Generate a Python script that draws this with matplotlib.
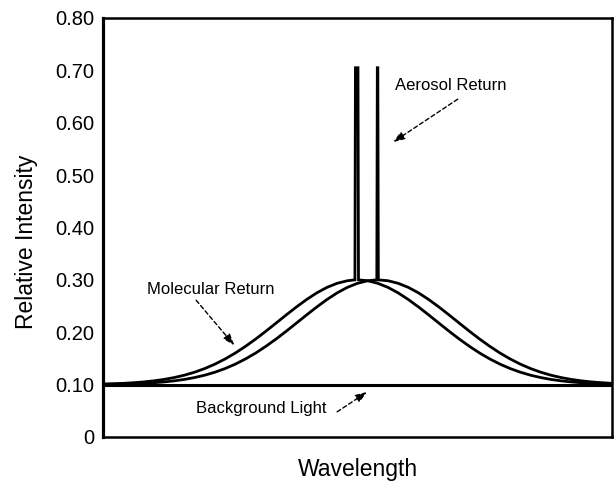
import matplotlib
matplotlib.use('Agg')
import matplotlib.pyplot as plt

plt.rcParams['font.family'] = ['Liberation Sans', 'DejaVu Sans']

# molecular return 1 (aerosol spike at its centre)
mol1_x = [0, 2, 4, 6, 8, 10, 12, 14, 16, 18, 20, 22, 24, 26, 28, 30, 32, 34, 36, 38, 40, 42, 44, 46, 48,
          49.5, 49.6, 50.1, 50.2,
          52, 54, 56, 58, 60, 62, 64, 66, 68, 70, 72, 74, 76, 78, 80, 82, 84, 86, 88, 90, 92, 94, 96, 98, 100]
mol1_y = [0.1011, 0.1017, 0.1024, 0.1036, 0.1051, 0.1072, 0.1099, 0.1135, 0.1180, 0.1237, 0.1307, 0.1391,
          0.1490, 0.1603, 0.1731, 0.1870, 0.2019, 0.2174, 0.2330, 0.2482, 0.2624, 0.2751, 0.2856, 0.2934, 0.2983,
          0.300, 0.705, 0.705, 0.300,
          0.2983, 0.2934, 0.2856, 0.2751, 0.2624, 0.2482, 0.2330, 0.2174, 0.2019, 0.1870, 0.1731, 0.1603,
          0.1490, 0.1391, 0.1307, 0.1237, 0.1180, 0.1135, 0.1099, 0.1072, 0.1051, 0.1036, 0.1024, 0.1017, 0.1011]

# molecular return 2 (shifted to longer wavelength)
mol2_x = [0, 2, 4, 6, 8, 10, 12, 14, 16, 18, 20, 22, 24, 26, 28, 30, 32, 34, 36, 38, 40, 42, 44, 46, 48, 50, 52,
          53.8, 53.9, 54.0, 54.1,
          56, 58, 60, 62, 64, 66, 68, 70, 72, 74, 76, 78, 80, 82, 84, 86, 88, 90, 92, 94, 96, 98, 100]
mol2_y = [0.1005, 0.1007, 0.1011, 0.1017, 0.1024, 0.1036, 0.1051, 0.1072, 0.1099, 0.1135, 0.1180, 0.1237,
          0.1307, 0.1391, 0.1490, 0.1603, 0.1731, 0.1870, 0.2019, 0.2174, 0.2330, 0.2482, 0.2624, 0.2751,
          0.2856, 0.2934, 0.2983,
          0.300, 0.705, 0.705, 0.300,
          0.2983, 0.2934, 0.2856, 0.2751, 0.2624, 0.2482, 0.2330, 0.2174, 0.2019, 0.1870, 0.1731, 0.1603,
          0.1490, 0.1391, 0.1307, 0.1237, 0.1180, 0.1135, 0.1099, 0.1072, 0.1051, 0.1036, 0.1024]

bg_x = [0, 100]
bg_y = [0.10, 0.10]

yticks = [0, 0.1, 0.2, 0.3, 0.4, 0.5, 0.6, 0.7, 0.8]
ytick_labels = ['0', '0.10', '0.20', '0.30', '0.40', '0.50', '0.60', '0.70', '0.80']

fig = plt.figure(figsize=(6.15, 4.82), dpi=100)
ax = fig.add_axes([0.1675, 0.0934, 0.8275, 0.8693])

ax.plot(bg_x, bg_y, color='black', lw=2.2, solid_capstyle='butt')
ax.plot(mol1_x, mol1_y, color='black', lw=2.0, solid_joinstyle='miter')
ax.plot(mol2_x, mol2_y, color='black', lw=2.0, solid_joinstyle='miter')

ax.set_xlim(0, 100)
ax.set_ylim(0, 0.8)
ax.set_xticks([])
ax.set_yticks(yticks)
ax.set_yticklabels(ytick_labels, fontsize=14.5)
ax.tick_params(axis='y', length=0, pad=6)
for s in ax.spines.values():
    s.set_linewidth(1.8)
ax.spines['left'].set_linewidth(2.3)

ax.set_ylabel('Relative Intensity', fontsize=16.5)
ax.yaxis.set_label_coords(-0.128, 0.465)
ax.set_xlabel('Wavelength', fontsize=16.5)
ax.xaxis.set_label_coords(0.5, -0.05)

arrow = dict(arrowstyle='-|>,head_length=0.7,head_width=0.25', color='black',
             lw=1.0, linestyle=(0, (3, 2)), shrinkA=0, shrinkB=0)

ax.text(68.4, 0.672, 'Aerosol Return', fontsize=12, ha='center', va='center')
ax.annotate('', xy=(57.0, 0.563), xytext=(69.7, 0.645), arrowprops=arrow)

ax.text(21.2, 0.281, 'Molecular Return', fontsize=12, ha='center', va='center')
ax.annotate('', xy=(25.8, 0.175), xytext=(18.3, 0.261), arrowprops=arrow)

ax.text(31.0, 0.055, 'Background Light', fontsize=12, ha='center', va='center')
ax.annotate('', xy=(51.9, 0.086), xytext=(46.0, 0.048), arrowprops=arrow)

fig.savefig('out.png', dpi=100)
